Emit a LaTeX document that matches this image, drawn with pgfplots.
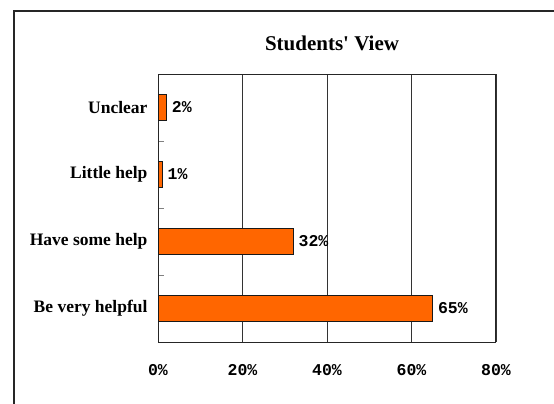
\documentclass[border=0pt]{standalone}
\usepackage{pgfplots}
\pgfplotsset{compat=1.18}
\usepackage{fontspec}
\setmainfont{Liberation Serif}
\newfontfamily\monofont{Liberation Mono}
\definecolor{barorange}{HTML}{FF6600}
\begin{document}
\begin{tikzpicture}
\path[use as bounding box] (0pt,0pt) rectangle (554pt,-404pt);
\draw[line width=1.1pt, black!85] (14pt,-404pt) -- (14pt,-11pt) -- (554pt,-11pt);
\node[font=\fontsize{21}{23}\selectfont\bfseries] at (332pt,-43pt) {Students\textquotesingle\ View};
\begin{axis}[
  at={(158pt,-342pt)}, anchor=south west,
  scale only axis, width=338pt, height=268pt,
  xbar, bar width=26pt,
  xmin=0, xmax=80, ymin=-0.5, ymax=3.5,
  xtick={0,20,40,60,80},
  xticklabels={0\%,20\%,40\%,60\%,80\%},
  xmajorgrids, major grid style={black!80, line width=0.6pt},
  x tick style={draw=none},
  xticklabel style={font=\monofont\bfseries\fontsize{16.5}{18}\selectfont, yshift=-19pt},
  ytick={0,1,2,3},
  yticklabels={Be very helpful,Have some help,Little help,Unclear},
  yticklabel style={font=\bfseries\fontsize{17.5}{19}\selectfont, xshift=-7pt},
  major y tick style={draw=none},
  minor ytick={0.5,1.5,2.5},
  minor tick length=6pt,
  tick align=inside,
  ytick pos=left,
  axis line style={black!85, line width=1pt},
  nodes near coords={\pgfmathprintnumber[assume math mode=true]{\pgfplotspointmeta}\%},
  point meta=x,
  every node near coord/.append style={font=\monofont\bfseries\fontsize{16.5}{18}\selectfont, anchor=west, inner sep=0pt, xshift=5pt},
]
\addplot[fill=barorange, draw=black!90, line width=0.9pt] coordinates {(65,0) (32,1) (1,2) (2,3)};
\end{axis}
\end{tikzpicture}
\end{document}
